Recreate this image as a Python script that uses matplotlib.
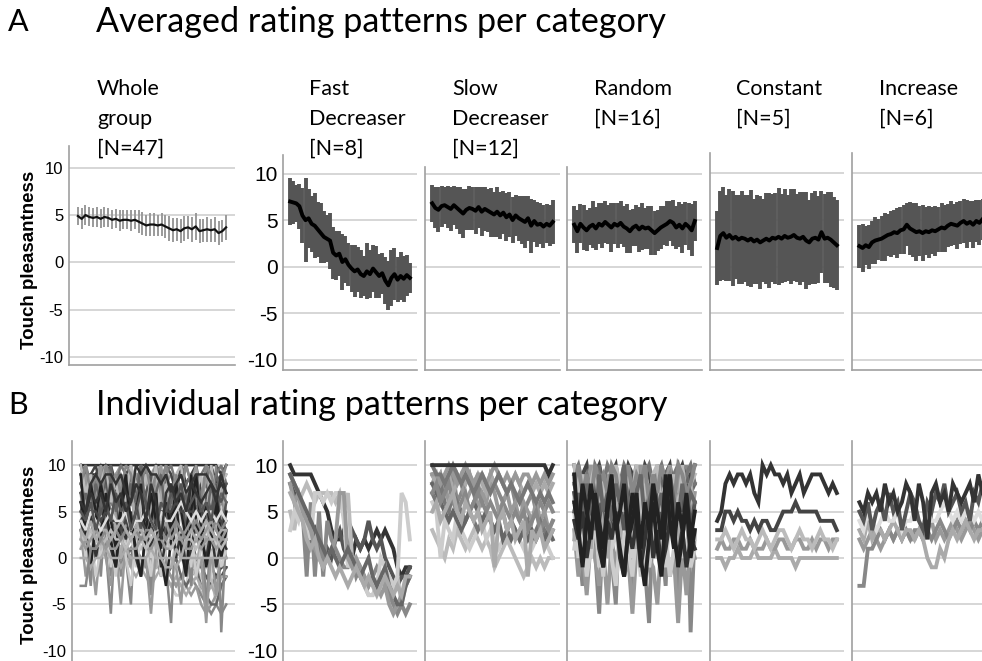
import matplotlib
matplotlib.use("Agg")
import matplotlib.pyplot as plt
import numpy as np

W, H = 982, 661

# ---- averaged patterns (panel A): mean and error half-width per trial ----
whole_mean = [4.9, 4.6, 5.0, 4.8, 4.7, 4.8, 4.6, 4.8, 4.7, 4.5,
              4.6, 4.4, 4.5, 4.5, 4.4, 4.5, 4.3, 4.1, 3.9, 4.0,
              4.0, 3.9, 4.0, 3.8, 3.6, 3.4, 3.5, 3.3, 3.6, 3.7,
              3.5, 3.8, 3.3, 3.4, 3.5, 3.4, 3.5, 3.1, 3.3, 3.7]
whole_err = [1.0, 1.1, 1.1, 1.0, 1.0, 1.1, 1.0, 1.1, 1.0, 1.0,
             1.0, 1.1, 1.0, 1.0, 1.1, 1.0, 1.2, 1.2, 1.1, 1.2,
             1.2, 1.1, 1.2, 1.2, 1.3, 1.3, 1.2, 1.3, 1.3, 1.2,
             1.3, 1.4, 1.3, 1.2, 1.3, 1.2, 1.3, 1.3, 1.2, 1.3]

fast_mean = [7.0, 6.9, 6.8, 6.5, 5.5, 5.0, 5.2, 4.6, 4.4, 4.0,
             3.6, 3.2, 3.0, 2.8, 1.5, 1.2, 1.4, 0.5, 0.8, 0.2,
             -0.2, -0.5, -0.3, -0.8, -1.0, -0.5, -0.8, -0.2, -0.6, -1.0,
             -0.7, -1.5, -2.0, -1.2, -0.8, -1.4, -1.0, -1.3, -0.9, -1.2]
fast_err = [2.5, 2.3, 2.0, 2.4, 3.0, 4.5, 3.2, 3.0, 3.5, 3.0,
            3.2, 2.8, 2.5, 3.0, 2.8, 2.6, 2.4, 3.0, 2.5, 2.3,
            2.5, 2.8, 2.4, 2.6, 2.2, 3.0, 2.6, 2.5, 2.8, 2.4,
            2.2, 2.5, 2.6, 3.0, 2.8, 2.4, 2.6, 2.5, 2.2, 1.6]

slow_mean = [6.8, 6.3, 6.1, 6.5, 6.6, 6.4, 6.2, 6.6, 6.3, 6.0,
             5.7, 6.1, 6.3, 6.2, 6.0, 6.4, 5.9, 6.2, 6.0, 5.8,
             5.6, 5.9, 5.5, 5.8, 5.3, 5.6, 5.0, 5.5, 5.2, 5.0,
             4.8, 5.2, 4.4, 4.9, 4.5, 4.6, 4.3, 4.6, 4.4, 4.8]
slow_err = [2.0, 2.2, 2.4, 2.2, 2.0, 2.3, 2.4, 2.1, 2.3, 2.5,
            2.6, 2.2, 2.4, 2.3, 2.5, 2.2, 2.6, 2.4, 2.3, 2.6,
            2.4, 2.7, 2.5, 2.3, 2.6, 2.4, 2.5, 2.2, 2.4, 2.6,
            2.8, 2.4, 2.9, 2.3, 2.4, 2.2, 2.3, 2.1, 2.2, 2.4]

random_mean = [4.5, 3.8, 4.6, 4.2, 3.9, 4.3, 4.5, 4.1, 4.6, 4.4,
               4.8, 4.5, 4.2, 4.6, 4.4, 4.7, 4.3, 4.1, 3.8, 4.2,
               4.4, 4.0, 4.3, 4.1, 4.2, 3.9, 3.6, 3.9, 4.2, 4.4,
               4.6, 4.9, 4.7, 4.2, 4.5, 4.1, 4.6, 4.3, 3.9, 4.9]
random_err = [2.0, 2.3, 2.1, 2.4, 2.2, 2.0, 2.5, 2.3, 2.2, 2.4,
              2.3, 2.1, 2.6, 2.2, 2.4, 2.3, 2.2, 2.6, 2.3, 2.0,
              2.2, 2.4, 2.5, 2.2, 2.3, 2.6, 2.4, 2.2, 2.3, 2.1,
              2.4, 2.2, 2.5, 2.3, 2.4, 2.6, 2.3, 2.5, 2.8, 2.2]

constant_mean = [2.0, 3.3, 3.6, 3.1, 3.4, 3.0, 3.2, 2.9, 3.1, 3.0,
                 2.8, 3.0, 2.7, 2.9, 2.6, 2.8, 3.0, 2.8, 3.1, 3.0,
                 3.2, 3.0, 3.3, 3.1, 3.2, 3.4, 3.1, 3.0, 3.2, 2.8,
                 2.6, 3.0, 3.1, 2.9, 3.7, 3.0, 3.1, 2.9, 2.6, 2.3]
constant_err = [4.0, 4.8, 5.0, 4.6, 4.9, 5.1, 4.5, 4.8, 5.0, 4.7,
                4.9, 5.2, 4.6, 4.8, 5.0, 4.5, 4.9, 5.1, 4.7, 4.9,
                5.2, 4.8, 5.0, 4.6, 5.1, 4.9, 4.7, 5.0, 4.8, 5.2,
                4.6, 4.9, 5.0, 4.7, 4.4, 4.8, 4.9, 5.1, 4.9, 4.8]

increase_mean = [2.2, 2.0, 2.3, 2.1, 2.6, 2.8, 2.9, 3.0, 3.2, 3.4,
                 3.5, 3.7, 3.6, 3.9, 4.0, 4.5, 4.1, 3.9, 3.7, 3.8,
                 3.6, 3.8, 3.7, 3.9, 3.8, 4.0, 4.2, 4.1, 4.4, 4.6,
                 4.5, 4.4, 4.7, 4.9, 4.6, 4.8, 4.5, 4.9, 4.7, 5.1]
increase_err = [2.3, 2.6, 2.1, 2.4, 2.3, 2.5, 2.2, 2.4, 2.6, 2.3,
                2.5, 2.4, 2.7, 2.5, 2.6, 2.3, 2.8, 2.9, 3.1, 2.7,
                3.0, 2.6, 2.8, 2.5, 2.7, 2.4, 2.6, 2.5, 2.3, 2.4,
                2.2, 2.5, 2.3, 2.4, 2.6, 2.2, 2.5, 2.3, 2.4, 2.2]

# ---- individual patterns (panel B): (grey level, ratings) per participant ----
fast_people = [
    ("#333333", [10, 9, 9, 9, 9, 9, 8, 7, 6, 5, 3, 2, 2, 3, 1, 0, 2, 1, 2, 1, 2, 3, 2, 3, 2, 1, -1, -2, -1, -1]),
    ("#555555", [8, 7, 6, 4, 3, 2, 3, 1, 0, 1, 0, 2, 3, 1, 0, 3, 2, 1, 2, 4, 2, 1, 2, 0, -1, -2, -3, -2, -2, -1]),
    ("#bbbbbb", [5, 3, 6, 7, 8, 7, 6, 7, 7, 7, 7, 6, 7, 5, 7, 0, -1, -2, -3, -4, -4, -3, -2, -1, -4, -3, -2, -5, -3, -2]),
    ("#888888", [9, 8, 7, 5, -2, 6, -2, 5, -2, 4, 2, 1, 0, -1, -1, 0, -2, -1, -2, -3, -2, -1, -2, -3, -4, -5, -6, -5, -6, -5]),
    ("#cccccc", [3, 5, 4, 6, 3, 2, 7, 7, 6, 7, 6, 7, 7, 4, -1, 0, -1, -2, -3, -4, -4, -3, 0, -1, -2, -3, -2, 7, 6, 2]),
    ("#999999", [8, 6, 7, 5, 4, 3, 1, 0, -1, 0, 1, 2, 7, 7, 0, -1, 0, -1, -2, -3, -2, -3, -4, -3, -5, -6, -5, -4, -3, -2]),
    ("#666666", [9, 8, 7, 6, 5, 4, 3, 2, 1, 0, 1, 0, -1, 0, 1, 0, -1, -2, -1, 0, -2, -3, -2, -1, -3, -4, -5, -5, -3, -2]),
    ("#aaaaaa", [7, 6, 5, 4, 2, 1, 2, 0, -1, 0, -1, -2, -1, -2, -3, -2, -1, -2, -3, -2, -3, -4, -3, -2, -3, -4, -3, -4, -2, -2]),
]
slow_people = [
    ("#bbbbbb", [3, 2, 1, 0, 2, 1, 3, 2, 1, 2, 3, 2, 1, 2, 1, -1, 0, 1, 2, 1, 0, -1, -2, -1, 0, -1, 0, -1, 0, 0]),
    ("#cccccc", [6, 5, 0, 4, 3, 2, 5, 3, 2, 1, 2, 3, 4, 2, 3, 2, 1, 2, 3, 4, 3, 2, 1, 0, 1, 2, 3, 2, 1, 0]),
    ("#888888", [9, 8, 9, 7, 8, 9, 6, 7, 8, 9, 7, 8, 6, 7, 9, 8, 7, 6, 7, 8, 6, 7, 5, 6, 7, 5, 6, 5, 6, 5]),
    ("#999999", [8, 9, 7, 8, 6, 7, 9, 8, 6, 7, 8, 5, 7, 6, 8, 7, 5, 6, 7, 5, 6, 4, 6, 5, 4, 6, 4, 5, 3, 4]),
    ("#777777", [7, 6, 8, 6, 5, 7, 6, 5, 4, 5, 4, 3, 4, 5, 4, 3, 4, 5, 3, 4, 3, 2, 3, 4, 2, 3, 4, 3, 2, 3]),
    ("#aaaaaa", [9, 8, 9, 8, 9, 7, 8, 9, 8, 9, 8, 9, 8, 7, 9, 8, 9, 8, 7, 8, 9, 8, 7, 8, 7, 8, 7, 8, 7, 8]),
    ("#666666", [8, 7, 6, 5, 4, 5, 4, 3, 4, 5, 6, 5, 4, 5, 4, 3, 4, 2, 3, 2, 3, 2, 3, 2, 3, 2, 3, 2, 3, 2]),
    ("#999999", [9, 9, 8, 9, 10, 9, 8, 9, 10, 9, 8, 9, 9, 8, 9, 10, 9, 8, 9, 8, 9, 8, 9, 9, 8, 9, 8, 9, 8, 9]),
    ("#888888", [7, 8, 6, 7, 8, 6, 5, 6, 7, 5, 6, 7, 6, 5, 6, 5, 4, 6, 5, 4, 5, 4, 5, 3, 4, 5, 3, 4, 3, 4]),
    ("#aaaaaa", [5, 6, 4, 5, 6, 7, 5, 4, 6, 5, 4, 5, 3, 4, 5, -1, 4, 5, 3, 4, 2, 3, 4, -2, 3, 2, 3, 1, 2, 3]),
    ("#777777", [10, 9, 9, 8, 9, 10, 9, 8, 9, 8, 7, 8, 9, 8, 7, 8, 9, 8, 7, 8, 7, 6, 7, 8, 7, 6, 7, 6, 7, 6]),
    ("#333333", [10, 10, 10, 10, 10, 10, 10, 10, 10, 10, 10, 10, 10, 10, 10, 10, 10, 10, 10, 10, 10, 10, 10, 10, 10, 10, 10, 10, 9, 10]),
]
random_people = [
    ("#888888", [7, 2, -3, 5, 9, 1, -6, 4, 8, 0, -5, 6, 10, 3, -4, 7, 9, -1, -7, 5, 8, 2, -3, 9, 6, -6, 4, 10, -8, 3]),
    ("#999999", [3, -2, 1, -4, 2, 0, -3, 1, -5, 2, -1, 3, -2, 0, -6, 1, 2, -3, 0, -1, -5, 2, 1, -2, 0, -7, 1, -4, 2, 0]),
    ("#cccccc", [5, 0, 3, -2, 1, 4, -1, 2, 6, 0, -3, 2, 5, 1, -2, 3, 0, 4, -1, 2, 5, 0, 3, -2, 1, 4, 0, 2, -1, 1]),
    ("#cccccc", [1, 4, -1, 3, 0, 5, 2, -2, 4, 1, 3, -1, 2, 5, 0, 3, -2, 1, 4, 2, 0, 3, -1, 5, 2, -1, 3, 0, 4, 2]),
    ("#444444", [10, 8, 9, 10, 7, 9, 10, 8, 6, 9, 10, 7, 8, 10, 9, 6, 8, 10, 9, 7, 10, 8, 9, 10, 7, 9, 10, 8, 9, 10]),
    ("#666666", [8, 6, 9, 7, 5, 8, 10, 6, 4, 7, 9, 5, 8, 6, 4, 7, 9, 8, 5, 7, 6, 8, 9, 5, 7, 8, 6, 9, 7, 8]),
    ("#999999", [6, 9, 4, 7, 10, 5, 8, 3, 9, 6, 10, 4, 7, 9, 5, 8, 10, 6, 3, 9, 7, 4, 8, 10, 5, 9, 6, 8, 4, 7]),
    ("#777777", [9, 10, 8, 9, 7, 10, 9, 8, 10, 9, 7, 8, 10, 9, 8, 10, 7, 9, 10, 8, 9, 10, 8, 7, 9, 10, 8, 9, 10, 8]),
    ("#aaaaaa", [2, 6, 8, 4, 1, 7, 9, 3, 0, 5, 8, 2, 6, 9, 4, 1, 7, 10, 3, 5, 8, 2, 6, 9, 4, 0, 7, 3, 8, 5]),
    ("#555555", [7, 5, 8, 3, 6, 9, 4, 7, 2, 5, 8, 6, 3, 7, 9, 4, 6, 2, 8, 5, 7, 3, 6, 9, 4, 7, 5, 8, 3, 6]),
    ("#bbbbbb", [10, 7, 9, 4, 8, 10, 6, 9, 3, 7, 10, 8, 5, 9, 7, 10, 4, 8, 6, 9, 10, 5, 8, 7, 9, 4, 10, 6, 8, 9]),
    ("#888888", [8, 10, 7, 9, 6, 10, 8, 9, 7, 10, 9, 6, 8, 10, 7, 9, 8, 10, 6, 9, 7, 10, 8, 9, 6, 10, 9, 7, 8, 10]),
    ("#666666", [5, 7, 4, 8, 6, 3, 9, 5, 7, 4, 8, 6, 10, 5, 3, 7, 9, 4, 6, 8, 5, 7, 3, 9, 6, 4, 8, 5, 7, 6]),
    ("#333333", [4, 2, 5, 0, 3, 6, 1, -1, 4, 2, 5, 0, -2, 3, 1, 4, -1, 2, 5, 0, 3, -1, 1, 4, 2, 0, 3, -1, 2, 1]),
    ("#222222", [6, 3, 8, 5, 2, 7, 4, 1, 6, 9, 3, 5, 8, 2, 4, 7, 1, 6, 3, 8, 5, 2, 9, 4, 1, 6, 3, 7, 2, 5]),
    ("#222222", [9, 3, -1, 4, 8, 5, 2, -1, 5, 8, 4, 1, -2, 3, 7, 4, 0, -3, 2, 6, 1, -2, 5, 9, 3, -1, 2, 6, 0, 3]),
]
constant_people = [
    ("#aaaaaa", [0, 0, -1, 0, 0, 1, 0, 0, 0, 1, 0, 0, 0, 0, 1, 0, 0, 0, 0, -1, 0, 0, 0, 0, 0, 0, 0, 0, 0, 0]),
    ("#999999", [1, 2, 1, 1, 2, 2, 1, 1, 2, 1, 1, 1, 2, 1, 1, 2, 2, 1, 1, 2, 2, 1, 1, 2, 1, 2, 2, 1, 2, 2]),
    ("#bbbbbb", [2, 2, 3, 2, 1, 2, 3, 2, 2, 1, 2, 3, 2, 1, 2, 3, 3, 2, 1, 2, 3, 2, 2, 1, 2, 3, 2, 2, 1, 2]),
    ("#444444", [3, 3, 5, 5, 4, 5, 4, 4, 3, 4, 3, 4, 4, 3, 3, 4, 5, 5, 5, 6, 5, 5, 5, 5, 5, 4, 4, 4, 4, 3]),
    ("#333333", [4, 5, 8, 9, 8, 9, 9, 8, 9, 7, 6, 10, 9, 10, 9, 9, 8, 9, 7, 8, 9, 7, 8, 9, 9, 9, 8, 7, 8, 7]),
]
increase_people = [
    ("#999999", [2, 1, 2, 3, 2, 1, 2, 3, 2, 3, 2, 3, 2, 2, 3, 2, 3, 4, 2, 3, 2, 3, 4, 3, 2, 3, 4, 3, 2, 3]),
    ("#888888", [-3, -3, 1, 1, 2, 3, 2, 3, 2, 3, 2, 3, 2, 3, 3, 2, 3, 2, 3, 4, 3, 2, 3, 4, 3, 4, 3, 4, 3, 4]),
    ("#aaaaaa", [3, 2, 4, 2, 3, 3, 2, 3, 4, 3, 2, 3, 3, 2, 3, 2, 0, -1, -1, 1, 0, 2, 3, 2, 3, 4, 3, 2, 3, 3]),
    ("#dddddd", [4, 3, 5, 4, 3, 4, 5, 4, 4, 5, 3, 4, 4, 5, 4, 3, 5, 4, 4, 5, 6, 5, 4, 5, 4, 5, 5, 4, 5, 4]),
    ("#555555", [5, 4, 6, 3, 5, 6, 4, 7, 5, 6, 3, 5, 7, 6, 4, 3, 6, 5, 7, 6, 8, 5, 6, 7, 5, 6, 4, 7, 6, 8]),
    ("#333333", [6, 5, 7, 6, 7, 5, 8, 6, 7, 5, 6, 8, 7, 4, 8, 6, 2, 7, 8, 6, 7, 5, 8, 7, 6, 7, 8, 6, 9, 7]),
]

titles = ["Whole\ngroup\n[N=47]", "Fast\nDecreaser\n[N=8]", "Slow\nDecreaser\n[N=12]",
          "Random\n[N=16]", "Constant\n[N=5]", "Increase\n[N=6]"]
yticks = [-10, -5, 0, 5, 10]

TITLE_FONT = "Lato"
TICK_FONT = "Liberation Sans"


def px_axes(fig, left, right, top, bottom):
    return fig.add_axes([left / W, 1 - bottom / H, (right - left) / W, (bottom - top) / H])


def style(ax, ylim, n, show_ticks, tick_size):
    ax.set_ylim(*ylim)
    span = n - 1
    ax.set_xlim(-0.06 * span, span * 1.06)
    for y in yticks:
        ax.axhline(y, color="#cfcfcf", lw=1.2, zorder=0)
    for s in ["top", "right"]:
        ax.spines[s].set_visible(False)
    for s in ["left", "bottom"]:
        ax.spines[s].set_color("#a0a0a0")
        ax.spines[s].set_linewidth(1.2)
    ax.set_xticks([])
    ax.set_yticks(yticks)
    ax.tick_params(axis="y", length=0, pad=4)
    if show_ticks:
        ax.set_yticklabels([str(t) for t in yticks], fontsize=tick_size, family=TICK_FONT)
    else:
        ax.set_yticklabels([])


fig = plt.figure(figsize=(W / 100, H / 100), dpi=100)

# ---------------- panel A ----------------
means = [(whole_mean, whole_err), (fast_mean, fast_err), (slow_mean, slow_err),
         (random_mean, random_err), (constant_mean, constant_err), (increase_mean, increase_err)]
boxes_a = [(69, 235, 146, 365), (283, 417, 155, 370), (425, 560, 167, 370),
           (567, 702, 167, 370), (710, 844, 153, 370), (852, 990, 153, 370)]
ylims_a = [(-10.85, 12.3), (-11.1, 12.0), (-11.1, 10.7), (-11.1, 10.7), (-11.1, 12.2), (-11.1, 12.2)]
title_x = [97, 309, 452, 594, 736, 879]

for i, ((m, e), box) in enumerate(zip(means, boxes_a)):
    ax = px_axes(fig, *box)
    m = np.array(m)
    e = np.array(e)
    x = np.arange(len(m))
    style(ax, ylims_a[i], len(m), i < 2, 12 if i == 0 else 15)
    if i == 0:
        ax.vlines(x, m - e, m + e, color="#9a9a9a", lw=1.4, zorder=2)
        ax.plot(x, m, color="#111111", lw=1.6, zorder=3)
    else:
        ax.vlines(x, m - e, m + e, color="#555555", lw=2.8, zorder=2)
        ax.plot(x, m, color="#000000", lw=2.8, zorder=3)
    fig.text(title_x[i] / W, 1 - 79 / H, titles[i], ha="left", va="top",
             fontsize=15.5, family=TITLE_FONT, linespacing=1.62)

fig.text(8 / W, 1 - 22 / H, "A", ha="left", va="center", fontsize=22, family=TITLE_FONT)
fig.text(96 / W, 1 - 22 / H, "Averaged rating patterns per category", ha="left", va="center",
         fontsize=24.6, family=TITLE_FONT)
fig.text(30 / W, 1 - 260 / H, "Touch pleasantness", rotation=90, ha="center", va="center",
         fontsize=13.5, fontweight="bold", family=TICK_FONT)

# ---------------- panel B ----------------
groups = [fast_people, slow_people, random_people, constant_people, increase_people]
everyone = [p for g in groups for p in g]
boxes_b = [(72, 235, 441, 662), (283, 417, 441, 662), (425, 560, 441, 662),
           (567, 702, 441, 662), (710, 844, 441, 662), (852, 990, 441, 662)]
ylim_b = (-11.2, 12.6)

for i, box in enumerate(boxes_b):
    ax = px_axes(fig, *box)
    people = everyone if i == 0 else groups[i - 1]
    n = len(people[0][1])
    style(ax, ylim_b, n, i < 2, 12 if i == 0 else 15)
    lw = 1.8 if i == 0 else 2.8
    for colour, ratings in people:
        ax.plot(np.arange(len(ratings)), ratings, color=colour, lw=lw, zorder=2,
                solid_joinstyle="miter")

fig.text(8 / W, 1 - 405 / H, "B", ha="left", va="center", fontsize=22, family=TITLE_FONT)
fig.text(96 / W, 1 - 405 / H, "Individual rating patterns per category", ha="left", va="center",
         fontsize=24.6, family=TITLE_FONT)
fig.text(30 / W, 1 - 555 / H, "Touch pleasantness", rotation=90, ha="center", va="center",
         fontsize=13.5, fontweight="bold", family=TICK_FONT)

fig.savefig("out.png", dpi=100)
